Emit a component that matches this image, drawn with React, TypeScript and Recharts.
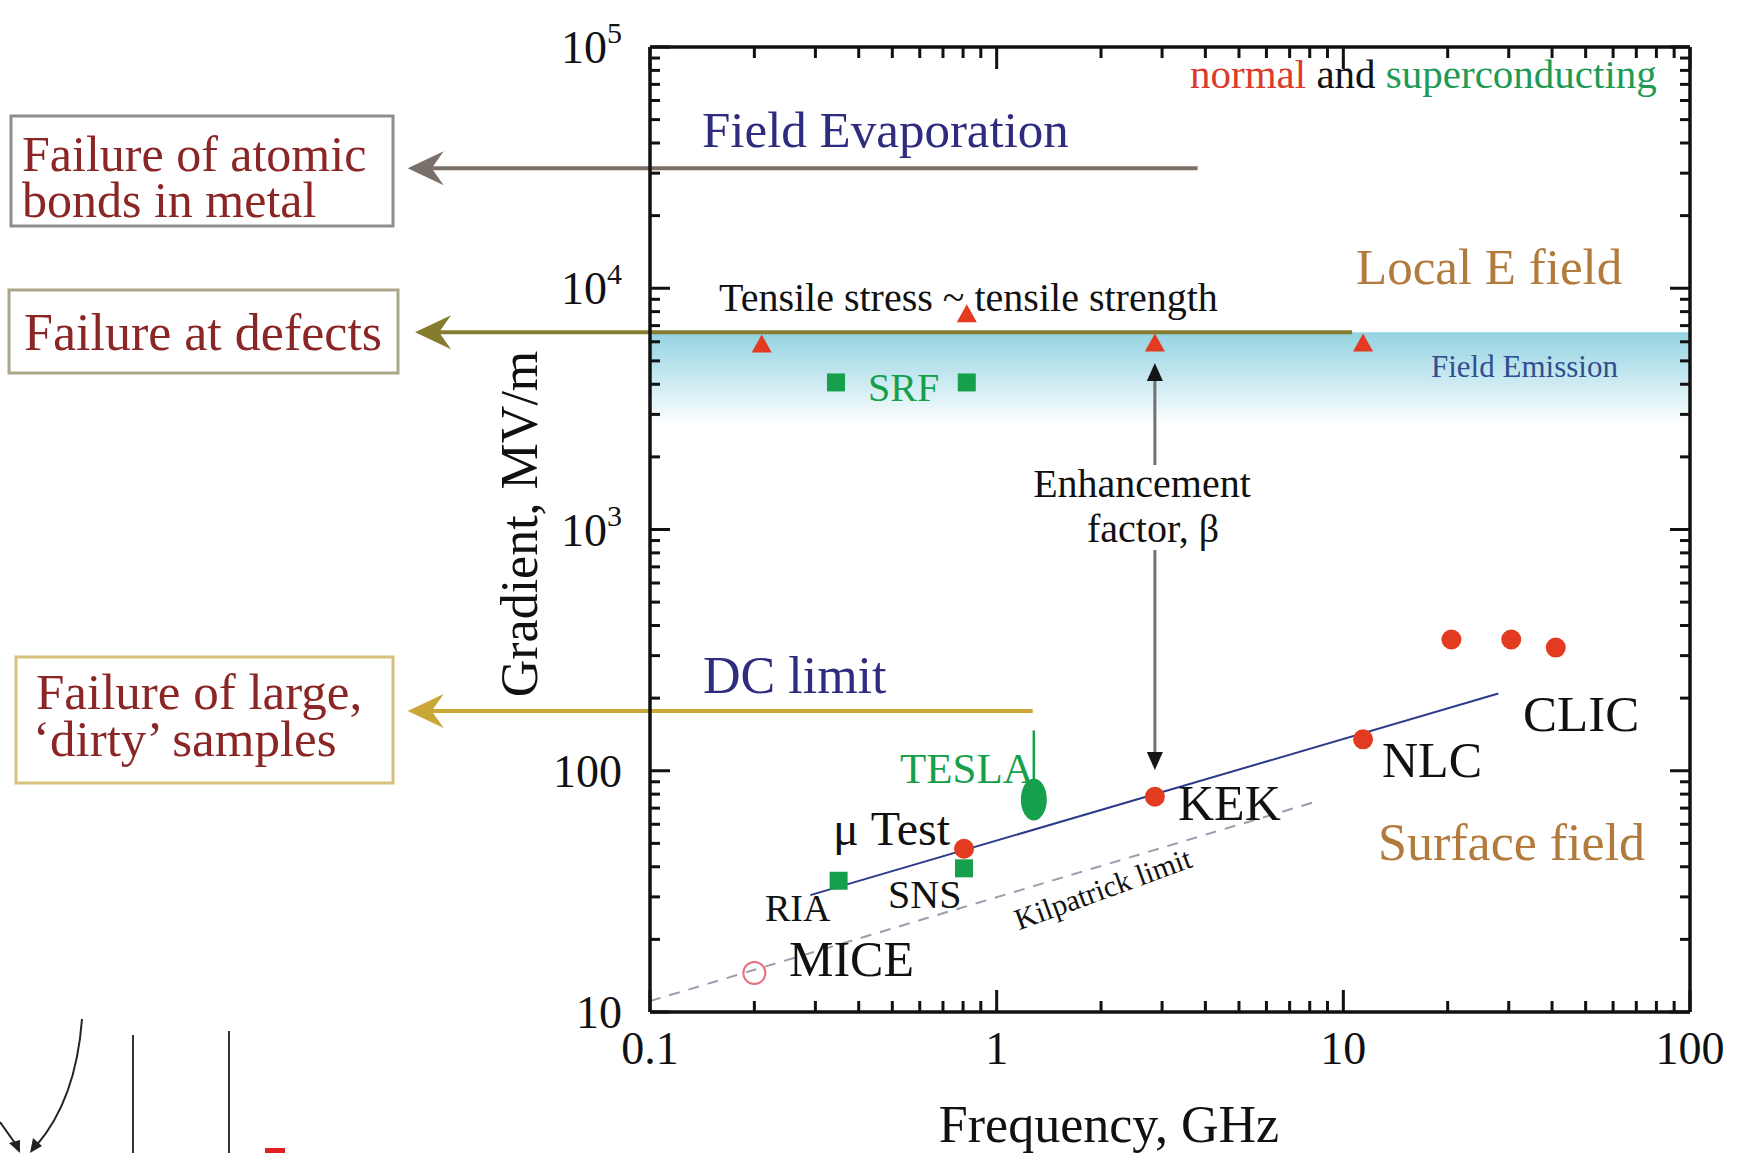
import React from 'react';
import { ComposedChart, Scatter, Line, XAxis, YAxis, ReferenceLine, ReferenceArea } from 'recharts';

const W = 1747;
const H = 1153;
const SERIF = '"Liberation Serif", "Times New Roman", "DejaVu Serif", serif';

// axis ticks (log decades with minor ticks)
const freqTicks = [
  0.1, 0.2, 0.3, 0.4, 0.5, 0.6, 0.7, 0.8, 0.9,
  1, 2, 3, 4, 5, 6, 7, 8, 9,
  10, 20, 30, 40, 50, 60, 70, 80, 90, 100,
];
const gradTicks = [
  10, 20, 30, 40, 50, 60, 70, 80, 90,
  100, 200, 300, 400, 500, 600, 700, 800, 900,
  1000, 2000, 3000, 4000, 5000, 6000, 7000, 8000, 9000,
  10000, 20000, 30000, 40000, 50000, 60000, 70000, 80000, 90000, 100000,
];
const freqLabels: Record<string, string> = { '0.1': '0.1', '1': '1', '10': '10', '100': '100' };
const gradLabels: Record<string, [string, string]> = {
  '10': ['10', ''],
  '100': ['100', ''],
  '1000': ['10', '3'],
  '10000': ['10', '4'],
  '100000': ['10', '5'],
};

// normal conducting, tensile stress limit (red triangles)
const tensileTriangles = [
  { f: 0.21, g: 5850 },
  { f: 0.82, g: 7800 },
  { f: 2.86, g: 5900 },
  { f: 11.4, g: 5900 },
];
// normal conducting structures: uTest, KEK, NLC, CLIC (x3)
const normalPoints = [
  { f: 0.805, g: 47.5 },
  { f: 2.86, g: 78 },
  { f: 11.4, g: 135 },
  { f: 20.5, g: 350 },
  { f: 30.5, g: 350 },
  { f: 41, g: 324 },
];
const micePoint = [{ f: 0.2, g: 14.5 }];
// superconducting: SRF (x2), RIA, SNS
const scSquares = [
  { f: 0.344, g: 4070 },
  { f: 0.82, g: 4070 },
  { f: 0.35, g: 35 },
  { f: 0.805, g: 39.4 },
];
const teslaPoint = [{ f: 1.28, g: 76 }];
const teslaStalk = [{ f: 1.28, g: 88 }, { f: 1.28, g: 147 }];
const surfaceFit = [{ f: 0.29, g: 30.5 }, { f: 28, g: 209 }];
const kilpatrick = [{ f: 0.1, g: 11.1 }, { f: 8.6, g: 75.5 }];

// horizontal failure levels: field evaporation, defects, DC limit
const levelG = [31400, 6570, 177];
const levelFrom = [0.02, 0.021, 0.02];
const levelTo = [3.8, 10.6, 1.27];
const levelColors = ['#7b6f69', '#867c2f', '#c9a736'];

const fieldEmission = { gLow: 2700, gHigh: 6570 };
const enhancement = { f: 2.86, gTop: 4900, gapTop: 1850, gapBottom: 822, gBottom: 100.7 };

const RED = '#e23b1f';
const GREEN = '#17a04b';
const NAVY = '#2f2c80';
const BROWN = '#b27a3c';
const BOXTEXT = '#8b2626';
const AXIS = '#111';

const isMajor = (v: number) => Math.abs(Math.log10(v) - Math.round(Math.log10(v))) < 1e-6;
const key = (v: number) => String(+v.toPrecision(6));

const BottomTick = (p: any) => {
  const v = p.payload.value;
  const major = isMajor(v);
  return (
    <g>
      <line x1={p.x} y1={p.y} x2={p.x} y2={p.y - (major ? 22 : 11)} stroke={AXIS} strokeWidth={3} />
      {major && (
        <text x={p.x} y={p.y + 52} textAnchor="middle" fontSize={46} fontFamily={SERIF} fill={AXIS}>
          {freqLabels[key(v)]}
        </text>
      )}
    </g>
  );
};
const TopTick = (p: any) => {
  const major = isMajor(p.payload.value);
  return <line x1={p.x} y1={p.y} x2={p.x} y2={p.y + (major ? 22 : 11)} stroke={AXIS} strokeWidth={3} />;
};
const LeftTick = (p: any) => {
  const v = p.payload.value;
  const major = isMajor(v);
  const lab = gradLabels[key(v)];
  return (
    <g>
      <line x1={p.x} y1={p.y} x2={p.x + (major ? 20 : 10)} y2={p.y} stroke={AXIS} strokeWidth={3} />
      {major && lab && (
        <text x={p.x - 28} y={p.y + 16} textAnchor="end" fontSize={46} fontFamily={SERIF} fill={AXIS}>
          {lab[0]}
          {lab[1] && (
            <tspan dy={-20} fontSize={30}>
              {lab[1]}
            </tspan>
          )}
        </text>
      )}
    </g>
  );
};
const RightTick = (p: any) => {
  const major = isMajor(p.payload.value);
  return <line x1={p.x} y1={p.y} x2={p.x - (major ? 20 : 10)} y2={p.y} stroke={AXIS} strokeWidth={3} />;
};

const Triangle = (p: any) => (
  <polygon points={`${p.cx},${p.cy - 10} ${p.cx - 10},${p.cy + 8} ${p.cx + 10},${p.cy + 8}`} fill={RED} />
);
const Dot = (p: any) => <circle cx={p.cx} cy={p.cy} r={10} fill={RED} />;
const OpenDot = (p: any) => <circle cx={p.cx} cy={p.cy} r={11} fill="none" stroke="#e8707c" strokeWidth={2} />;
const Square = (p: any) => <rect x={p.cx - 9} y={p.cy - 9} width={18} height={18} fill={GREEN} />;
const Ellipse = (p: any) => <ellipse cx={p.cx} cy={p.cy} rx={13} ry={21} fill={GREEN} />;

const leftArrow = (color: string) => (p: any) => {
  const xl = Math.min(p.x1, p.x2);
  const xr = Math.max(p.x1, p.x2);
  const y = p.y1;
  return (
    <g>
      <line x1={xl + 16} y1={y} x2={xr} y2={y} stroke={color} strokeWidth={4} />
      <path d={`M ${xl} ${y} L ${xl + 36} ${y - 17} L ${xl + 24} ${y} L ${xl + 36} ${y + 17} Z`} fill={color} />
    </g>
  );
};
const vArrow = (p: any) => {
  const dir = Math.sign(p.y2 - p.y1);
  return (
    <g>
      <line x1={p.x1} y1={p.y1} x2={p.x2} y2={p.y2 - dir * 14} stroke="#707070" strokeWidth={3} />
      <path d={`M ${p.x2} ${p.y2} L ${p.x2 - 8} ${p.y2 - dir * 18} L ${p.x2 + 8} ${p.y2 - dir * 18} Z`} fill="#151515" />
    </g>
  );
};

const T = (props: any) => <text fontFamily={SERIF} {...props} />;

export default function App() {
  const ax = { xAxisId: 'b', yAxisId: 'l' };
  const axisLine = { stroke: AXIS, strokeWidth: 3.5 };
  return (
    <div style={{ position: 'absolute', left: 0, top: 0, width: W, height: H, background: '#fff' }}>
      <ComposedChart width={W} height={H} margin={{ top: 46, right: 56, bottom: 140, left: 649 }}>
        <defs>
          <linearGradient id="feGrad" x1="0" y1="0" x2="0" y2="1">
            <stop offset="0" stopColor="#94d2e1" />
            <stop offset="0.5" stopColor="#c8e9f1" />
            <stop offset="1" stopColor="#ffffff" />
          </linearGradient>
        </defs>
        <XAxis xAxisId="b" dataKey="f" type="number" scale="log" domain={[0.1, 100]} allowDataOverflow
          ticks={freqTicks} interval={0} height={1} tickSize={0} tickMargin={0} tickLine={false}
          tick={BottomTick} axisLine={axisLine} />
        <XAxis xAxisId="t" orientation="top" dataKey="f" type="number" scale="log" domain={[0.1, 100]} allowDataOverflow
          ticks={freqTicks} interval={0} height={1} tickSize={0} tickMargin={0} tickLine={false}
          tick={TopTick} axisLine={axisLine} />
        <YAxis yAxisId="l" dataKey="g" type="number" scale="log" domain={[10, 100000]} allowDataOverflow
          ticks={gradTicks} interval={0} width={1} tickSize={0} tickMargin={0} tickLine={false}
          tick={LeftTick} axisLine={axisLine} />
        <YAxis yAxisId="r" orientation="right" dataKey="g" type="number" scale="log" domain={[10, 100000]} allowDataOverflow
          ticks={gradTicks} interval={0} width={1} tickSize={0} tickMargin={0} tickLine={false}
          tick={RightTick} axisLine={axisLine} />

        <ReferenceArea {...ax} y1={fieldEmission.gLow} y2={fieldEmission.gHigh} fill="url(#feGrad)" fillOpacity={1} stroke="none" />

        {levelG.map((g, i) => (
          <ReferenceLine key={i} {...ax} ifOverflow="visible"
            segment={[{ x: levelFrom[i], y: g }, { x: levelTo[i], y: g }]}
            shape={leftArrow(levelColors[i])} />
        ))}
        <ReferenceLine {...ax} ifOverflow="visible"
          segment={[{ x: enhancement.f, y: enhancement.gapTop }, { x: enhancement.f, y: enhancement.gTop }]} shape={vArrow} />
        <ReferenceLine {...ax} ifOverflow="visible"
          segment={[{ x: enhancement.f, y: enhancement.gapBottom }, { x: enhancement.f, y: enhancement.gBottom }]} shape={vArrow} />

        <Line {...ax} data={kilpatrick} dataKey="g" stroke="#9c9cae" strokeWidth={2} strokeDasharray="11 9" dot={false} isAnimationActive={false} />
        <Line {...ax} data={surfaceFit} dataKey="g" stroke="#2d3a8a" strokeWidth={2} dot={false} isAnimationActive={false} />
        <Line {...ax} data={teslaStalk} dataKey="g" stroke={GREEN} strokeWidth={2.5} dot={false} isAnimationActive={false} />

        <Scatter {...ax} data={scSquares} shape={Square} isAnimationActive={false} />
        <Scatter {...ax} data={teslaPoint} shape={Ellipse} isAnimationActive={false} />
        <Scatter {...ax} data={tensileTriangles} shape={Triangle} isAnimationActive={false} />
        <Scatter {...ax} data={normalPoints} shape={Dot} isAnimationActive={false} />
        <Scatter {...ax} data={micePoint} shape={OpenDot} isAnimationActive={false} />
      </ComposedChart>

      <svg width={W} height={H} style={{ position: 'absolute', left: 0, top: 0, pointerEvents: 'none' }}>
        {/* annotations inside the plot */}
        <T x={702} y={147} fontSize={51} fill={NAVY}>Field Evaporation</T>
        <T x={1190} y={88} fontSize={41}>
          <tspan fill="#dc3a2a">normal</tspan>
          <tspan fill="#111"> and </tspan>
          <tspan fill="#1f9a55">superconducting</tspan>
        </T>
        <T x={1356} y={284} fontSize={51} fill={BROWN}>Local E field</T>
        <T x={719} y={311} fontSize={40} fill="#111">Tensile stress ~ tensile strength</T>
        <T x={1431} y={377} fontSize={31} fill="#2f4f8f">Field Emission</T>
        <T x={868} y={401} fontSize={40} fill={GREEN}>SRF</T>
        <T x={1142} y={497} fontSize={40} fill="#111" textAnchor="middle">Enhancement</T>
        <T x={1153} y={542} fontSize={40} fill="#111" textAnchor="middle">factor, β</T>
        <T x={703} y={693} fontSize={52} fill={NAVY}>DC limit</T>
        <T x={900} y={783} fontSize={43} fill={GREEN}>TESLA</T>
        <T x={833} y={845} fontSize={48} fill="#111">μ Test</T>
        <T x={1178} y={820} fontSize={50} fill="#111">KEK</T>
        <T x={1382} y={777} fontSize={50} fill="#111">NLC</T>
        <T x={1523} y={731} fontSize={51} fill="#111">CLIC</T>
        <T x={1378} y={860} fontSize={52} fill={BROWN}>Surface field</T>
        <T x={765} y={921} fontSize={38} fill="#111">RIA</T>
        <T x={888} y={908} fontSize={40} fill="#111">SNS</T>
        <T x={789} y={976} fontSize={50} fill="#111">MICE</T>
        <T x={1103} y={899} fontSize={30} fill="#111" textAnchor="middle" transform="rotate(-20 1103 889)">Kilpatrick limit</T>

        {/* axis titles */}
        <T x={519} y={524} fontSize={52} fill="#111" textAnchor="middle" transform="rotate(-90 519 524)" dy={18}>Gradient, MV/m</T>
        <T x={1109} y={1142} fontSize={52} fill="#111" textAnchor="middle">Frequency, GHz</T>

        {/* failure boxes */}
        <rect x={11} y={116} width={382} height={110} fill="none" stroke="#8e8e8e" strokeWidth={3} />
        <T x={22} y={171} fontSize={50} fill={BOXTEXT}>
          <tspan x={22}>Failure of atomic</tspan>
          <tspan x={22} dy={46}>bonds in metal</tspan>
        </T>
        <rect x={9} y={290} width={389} height={83} fill="none" stroke="#aba689" strokeWidth={3} />
        <T x={24} y={350} fontSize={52} fill={BOXTEXT}>Failure at defects</T>
        <rect x={16} y={657} width={377} height={126} fill="none" stroke="#d8c27a" strokeWidth={3} />
        <T x={36} y={709} fontSize={51} fill={BOXTEXT}>
          <tspan x={36}>Failure of large,</tspan>
          <tspan x={33} dy={47}>‘dirty’ samples</tspan>
        </T>

        {/* cropped fragments of a neighbouring figure */}
        <path d="M 82 1019 Q 76 1100 36 1146" fill="none" stroke="#222" strokeWidth={2} />
        <path d="M 30 1153 L 33 1138 L 42 1146 Z" fill="#222" />
        <path d="M 0 1122 L 17 1146" fill="none" stroke="#222" strokeWidth={2} />
        <path d="M 20 1153 L 9 1143 L 20 1140 Z" fill="#222" />
        <line x1={133} y1={1035} x2={133} y2={1153} stroke="#333" strokeWidth={2} />
        <line x1={229} y1={1031} x2={229} y2={1153} stroke="#333" strokeWidth={2} />
        <rect x={265} y={1148} width={20} height={5} fill="#e02020" />
      </svg>
    </div>
  );
}
